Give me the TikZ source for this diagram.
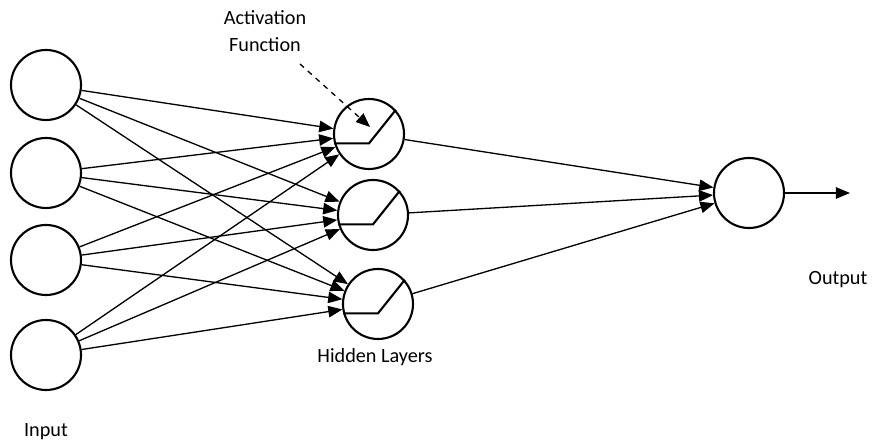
\documentclass[tikz,border=0pt]{standalone}
\usepackage{fontspec}
\setmainfont{Carlito}
\usetikzlibrary{arrows.meta, positioning, calc}

\tikzset{
  neuron/.style={draw, circle, line width=1.2pt, minimum size=1.40cm, inner sep=0pt},
  wire/.style={line width=0.75pt, -{Triangle[length=8pt,width=6.5pt]}},
  lbl/.style={font=\fontsize{11.5}{15}\selectfont, align=center}
}

\begin{document}
\begin{tikzpicture}
  \useasboundingbox (0,0) rectangle (17.44,8.96);

  % input layer
  \node[neuron] (in1) at (0.92,7.26) {};
  \node[neuron] (in2) at (0.92,5.50) {};
  \node[neuron] (in3) at (0.92,3.76) {};
  \node[neuron] (in4) at (0.92,1.86) {};

  % hidden layer
  \node[neuron] (h1) at (7.38,6.28) {};
  \node[neuron] (h2) at (7.46,4.66) {};
  \node[neuron] (h3) at (7.56,2.88) {};

  % output
  \node[neuron] (out) at (14.98,5.10) {};
  \coordinate (outend) at (17.00,5.10);

  % activation shape
  \foreach \h in {h1,h2,h3}
    \draw[line width=1.2pt] (\h.195) -- (\h.195 -| \h.center) -- (\h.42);

  \foreach \i in {in1,in2,in3,in4}
    \foreach \h in {h1,h2,h3}
      \draw[wire] (\i) -- (\h);

  \foreach \h in {h1,h2,h3}
    \draw[wire] (\h) -- (out);
  \draw[wire] (out) -- (outend);

  % labels
  \node[lbl] (act) at (5.30,8.34) {Activation\\Function};
  \coordinate (dashstart) at (6.00,7.68);
  \coordinate (acttip) at (7.40,6.42);
  \draw[wire, dashed] (dashstart) -- (acttip);

  \node[lbl] (hidlbl) at (7.50,1.82) {Hidden Layers};
  \node[lbl] (inlbl) at (0.92,0.32) {Input};
  \node[lbl] (outlbl) at (16.76,3.36) {Output};
\end{tikzpicture}
\end{document}
